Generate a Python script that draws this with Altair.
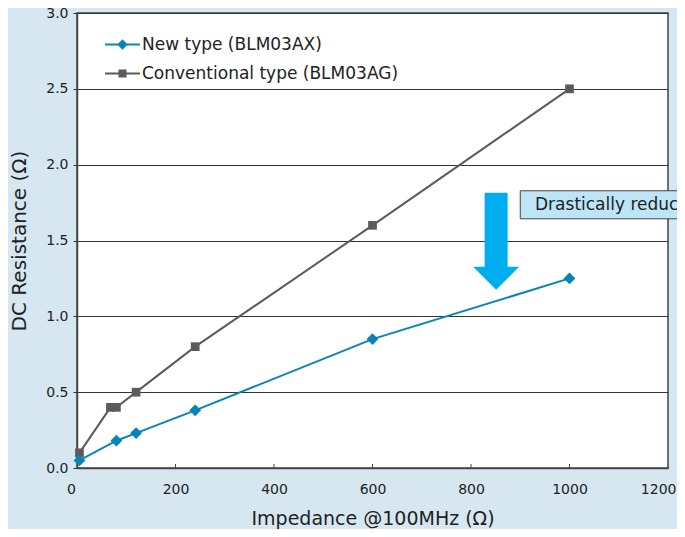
import altair as alt
import pandas as pd

# ---- data ----
series_names = ["New type (BLM03AX)", "Conventional type (BLM03AG)"]
new_x = [5, 80, 120, 240, 600, 1000]
new_y = [0.05, 0.18, 0.23, 0.38, 0.85, 1.25]
conv_x = [5, 68, 80, 120, 240, 600, 1000]
conv_y = [0.10, 0.40, 0.40, 0.50, 0.80, 1.60, 2.50]
x_ticks = [0, 200, 400, 600, 800, 1000, 1200]
x_inner_ticks = [200, 400, 600, 800, 1000]
y_ticks = [0.0, 0.5, 1.0, 1.5, 2.0, 2.5, 3.0]
arrow_x = [851]
arrow_y = [1.495]
note_x = [900]
note_x2 = [1400]
note_y = [1.643]
note_y2 = [1.828]
note_text = ["Drastically reduced"]
note_text_x = [930]
note_text_y = [1.735]

BLUE = "#0a84b6"
GRAY = "#5b5b5b"
FONT = "DejaVu Sans"

rows = []
for i, (x, y) in enumerate(zip(new_x, new_y)):
    rows.append({"series": series_names[0], "x": x, "y": y, "idx": i})
for i, (x, y) in enumerate(zip(conv_x, conv_y)):
    rows.append({"series": series_names[1], "x": x, "y": y, "idx": i})
df = pd.DataFrame(rows)

xscale = alt.Scale(domain=[0, 1200], nice=False, zero=False)
yscale = alt.Scale(domain=[0, 3.0], nice=False, zero=False)

x_axis = alt.Axis(values=x_ticks, format="d", grid=False, ticks=False, domain=True,
                  domainColor="#444", domainWidth=1.5, labelFlush=False,
                  labelAlign={"condition": {"test": "datum.value == 1200", "value": "right"},
                              "value": "center"},
                  labelOffset={"condition": [
                      {"test": "datum.value == 1200", "value": 8},
                      {"test": "datum.value == 0", "value": -6}],
                      "value": 0},
                  labelFont=FONT, labelFontSize=14, labelColor="#222",
                  labelBaseline="alphabetic", labelPadding=25,
                  title="Impedance @100MHz (Ω)", titleFont=FONT,
                  titleFontSize=19, titleFontWeight="normal", titleColor="#222",
                  titleBaseline="alphabetic", titleY=56)
y_axis = alt.Axis(values=y_ticks, format=".1f", grid=True, gridColor="#333",
                  gridWidth=1, domain=True, domainColor="#444", domainWidth=1.5,
                  ticks=True, tickSize=4, tickColor="#333", labelFlush=False,
                  labelFont=FONT, labelFontSize=14, labelColor="#222",
                  labelPadding=5,
                  title="DC Resistance (Ω)", titleFont=FONT, titleFontSize=20,
                  titleFontWeight="normal", titleColor="#222",
                  titleBaseline="alphabetic", titleX=-52)

X = alt.X("x:Q", scale=xscale, axis=x_axis)
Y = alt.Y("y:Q", scale=yscale, axis=y_axis)

base = alt.Chart(df)
is_new = alt.datum.series == series_names[0]
is_conv = alt.datum.series == series_names[1]

line_new = base.transform_filter(is_new).mark_line(strokeWidth=2, color=BLUE).encode(
    x=X, y=Y, order="idx:Q")
line_conv = base.transform_filter(is_conv).mark_line(strokeWidth=2, color=GRAY).encode(
    x="x:Q", y="y:Q", order="idx:Q")

pts_new = base.transform_filter(is_new).mark_point(
    filled=True, shape="diamond", size=140, opacity=1, color=BLUE
).encode(x="x:Q", y="y:Q")

pts_conv = base.transform_filter(is_conv).mark_point(
    filled=True, shape="square", size=76, opacity=1, color=GRAY
).encode(x="x:Q", y="y:Q")

path_new = "M-1,-0.057H1V0.057H-1Z M0,-0.3L0.3,0L0,0.3L-0.3,0Z"
path_conv = "M-1,-0.057H1V0.057H-1Z M-0.23,-0.23H0.23V0.23H-0.23Z"

legend = alt.Legend(title=None, orient="none", legendX=28, legendY=14,
                    symbolSize=1225, symbolStrokeWidth=0, labelFont=FONT,
                    labelFontSize=17, labelColor="#222", labelOffset=2,
                    rowPadding=3, padding=0, labelLimit=400)

cscale = alt.Scale(domain=series_names, range=[BLUE, GRAY])
legend_layer = base.transform_filter("false").mark_point(
    filled=True, opacity=1, strokeWidth=0
).encode(
    x="x:Q", y="y:Q",
    color=alt.Color("series:N", scale=cscale, legend=legend),
    shape=alt.Shape("series:N", scale=alt.Scale(domain=series_names,
                                                range=[path_new, path_conv]),
                    legend=legend),
)

tick_df = pd.DataFrame({"t": x_inner_ticks})
inner_ticks = alt.Chart(tick_df).mark_rule(color="#444", strokeWidth=1).encode(
    x=alt.X("t:Q", scale=xscale),
    y=alt.value(455), y2=alt.value(451),
)

arrow_df = pd.DataFrame({"x": arrow_x, "y": arrow_y})
arrow_path = "M-0.237,-1H0.237V0.526H0.474L0,1L-0.474,0.526H-0.237Z"
arrow = alt.Chart(arrow_df).mark_point(
    shape=arrow_path, filled=True, color="#00aeef", opacity=1, size=9409,
    strokeWidth=0
).encode(x=alt.X("x:Q", scale=xscale), y=alt.Y("y:Q", scale=yscale))

note_df = pd.DataFrame({"x": note_x, "x2": note_x2, "y": note_y, "y2": note_y2,
                        "tx": note_text_x, "ty": note_text_y, "label": note_text})
note_box = alt.Chart(note_df).mark_rect(
    fill="#bde5f8", stroke="#444", strokeWidth=1
).encode(x=alt.X("x:Q", scale=xscale), x2="x2:Q",
         y=alt.Y("y:Q", scale=yscale), y2="y2:Q")
note_label = alt.Chart(note_df).mark_text(
    align="left", baseline="middle", font=FONT, fontSize=17, color="#222"
).encode(x=alt.X("tx:Q", scale=xscale), y=alt.Y("ty:Q", scale=yscale),
         text="label:N")

chart = alt.layer(
    line_new, line_conv, pts_conv, pts_new, legend_layer, inner_ticks, arrow,
    note_box, note_label
).properties(
    width=591, height=455,
    autosize=alt.AutoSizeParams(type="none"),
    padding={"left": 69, "top": 5, "right": 9, "bottom": 61},
    background="#d7e7f1",
).configure_view(stroke="#444", strokeWidth=1.5, fill="white")

chart.save("out.html", embed_options={"renderer": "svg", "actions": False})
